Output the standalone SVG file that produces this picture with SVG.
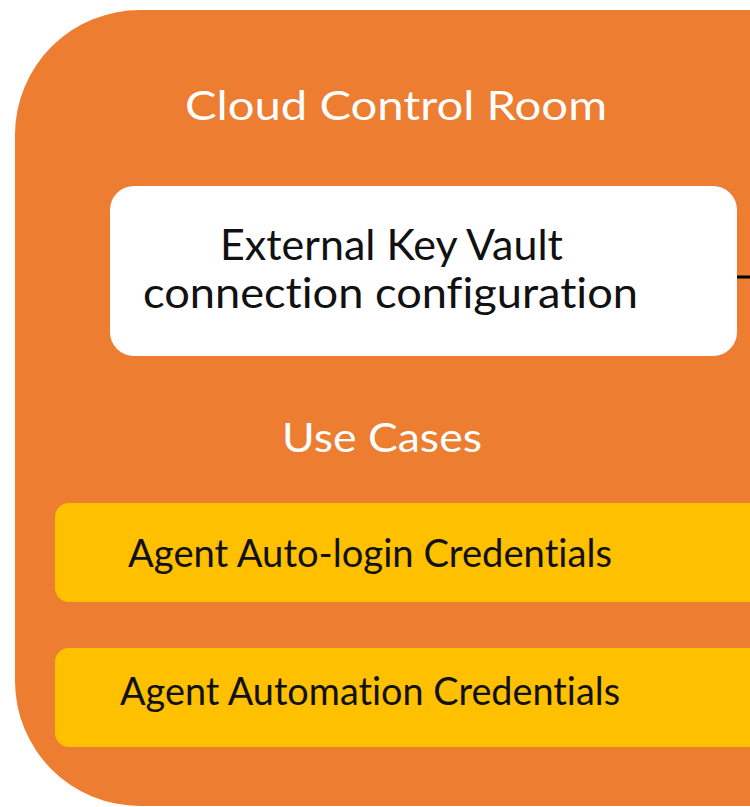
<svg xmlns="http://www.w3.org/2000/svg" width="750" height="807" viewBox="0 0 750 807">
<style>
.t{font-family:Lato,"Open Sans","DejaVu Sans",sans-serif;text-anchor:middle;font-variant-ligatures:none;font-feature-settings:"liga" 0,"clig" 0,"dlig" 0}
.w{fill:#ffffff}
.k{fill:#111111}
</style>
<rect width="750" height="807" fill="#ffffff"/>
<g id="cloud-control-room">
<rect x="15" y="10" width="860" height="796" rx="125" ry="125" fill="#ED7D31"/>
<text class="t w" x="396" y="120" font-size="40" textLength="422" lengthAdjust="spacingAndGlyphs">Cloud Control Room</text>
</g>
<g id="connectors">
<line x1="736" y1="277" x2="750" y2="277" stroke="#000000" stroke-width="3"/>
</g>
<g id="key-vault-config">
<rect x="110" y="186" width="627" height="170" rx="24" ry="24" fill="#ffffff"/>
<text class="t k" x="391.5" y="260" font-size="43" textLength="343" lengthAdjust="spacingAndGlyphs">External Key Vault</text>
<text class="t k" x="390.5" y="308" font-size="43" textLength="495" lengthAdjust="spacingAndGlyphs">connection configuration</text>
</g>
<g id="use-cases-label">
<text class="t w" x="382" y="452" font-size="40" textLength="200" lengthAdjust="spacingAndGlyphs">Use Cases</text>
</g>
<g id="agent-auto-login">
<rect x="55" y="503" width="760" height="99" rx="14" ry="14" fill="#FFC000"/>
<text class="t k" x="370" y="567" font-size="38" textLength="484" lengthAdjust="spacingAndGlyphs">Agent Auto-login Credentials</text>
</g>
<g id="agent-automation">
<rect x="55" y="648" width="760" height="99" rx="14" ry="14" fill="#FFC000"/>
<text class="t k" x="370" y="705" font-size="38" textLength="500" lengthAdjust="spacingAndGlyphs">Agent Automation Credentials</text>
</g>
</svg>
